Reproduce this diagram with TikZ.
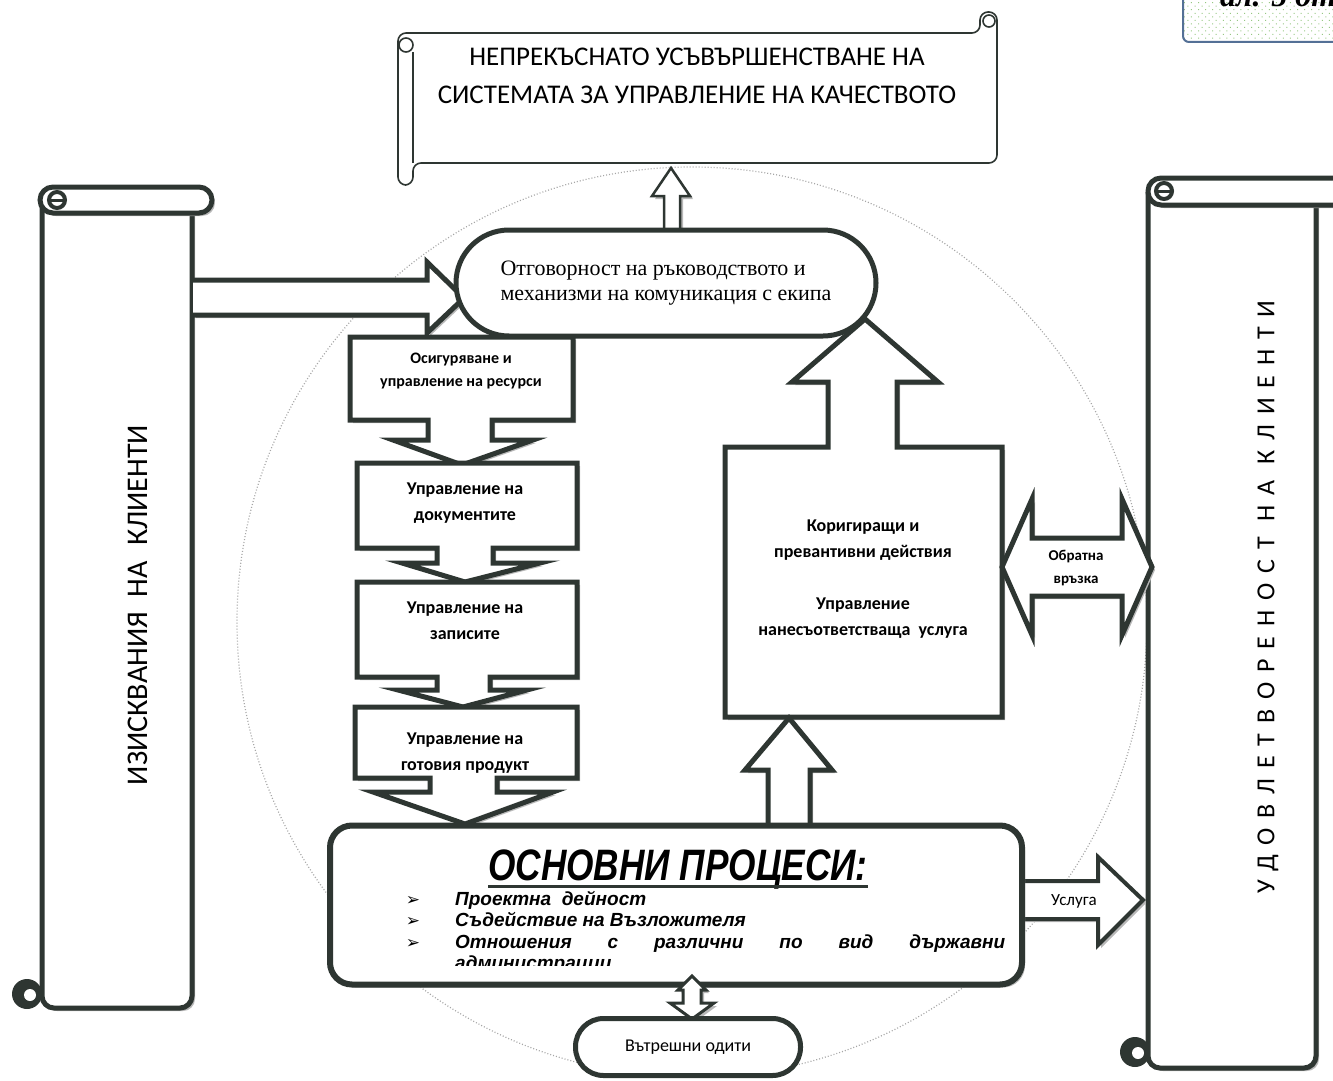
\documentclass[tikz,border=0pt]{standalone}
\usepackage{fontspec}
\setmainfont{Carlito}
\newfontfamily\serifcyr{Liberation Serif}
\newfontfamily\narrowcyr{Liberation Sans}[FakeStretch=0.8]
\newfontfamily\itemcyr{Liberation Sans}
\newfontfamily\spacedcyr{Carlito}[LetterSpace=38]
\newfontfamily\symcyr{DejaVu Sans}
\usetikzlibrary{shadows,patterns.meta}

\definecolor{ink}{RGB}{46,54,50}
\definecolor{boxblue}{RGB}{84,112,150}
\definecolor{dotgreen}{RGB}{150,200,130}

\tikzset{
  ink line/.style={draw=ink, line width=5pt, line join=miter},
  shadowed/.style={drop shadow={shadow xshift=3pt, shadow yshift=-3pt, fill=black!28, opacity=1}},
  blockarrow/.style={ink line, fill=white, shadowed},
  stadium/.style={ink line, fill=white, rounded corners=#1},
  stepbox/.style={font=\bfseries\fontsize{18}{26}\selectfont, align=center},
  procitem/.style={font=\itemcyr\bfseries\itshape\fontsize{19}{22}\selectfont, anchor=base west, inner sep=0},
  bullet/.style={font=\symcyr\fontsize{17}{18}\selectfont, anchor=base, inner sep=0},
}

\begin{document}
\begin{tikzpicture}[x=1pt,y=-1pt]

        \useasboundingbox (0,0) rectangle (1333,1081);
        \clip (0,0) rectangle (1333,1081);

        % dotted circle
        \draw[gray!70, line width=1.2pt, dash pattern=on 1pt off 2pt] (692,622) circle (455);

        % left scroll
        \draw[ink line, fill=white, shadowed, rounded corners=12] (192,213) -- (192,1008) -- (42,1008) -- (42,200);
        \draw[ink line, fill=white, shadowed, rounded corners=13] (40,187) rectangle (212,213);
        \draw[ink line, line width=4pt, fill=white] (57,200) circle (8);
        \draw[ink line, line width=3pt] (49,200) -- (65,200);
        \fill[ink] (27,994) circle (15);
        \fill[white] (30,995) circle (6);
        \node[font=\fontsize{30}{32}\selectfont, rotate=90] (creq) at (138,605) {ИЗИСКВАНИЯ\hspace{0.5em}НА\hspace{0.5em}КЛИЕНТИ};

        % right scroll
        \draw[ink line, fill=white, shadowed, rounded corners=12] (1316,205) -- (1316,1068) -- (1148,1068) -- (1148,192);
        \draw[ink line, fill=white, shadowed, rounded corners=13] (1148,178) rectangle (1360,205);
        \draw[ink line, line width=4pt, fill=white] (1164,191) circle (8);
        \draw[ink line, line width=3pt] (1156,191) -- (1172,191);
        \fill[ink] (1135,1052) circle (15);
        \fill[white] (1138,1053) circle (6);
        \node[font=\spacedcyr\fontsize{26}{30}\selectfont, rotate=90] (csat) at (1268,597) {УДОВЛЕТВОРЕНОСТ НА КЛИЕНТИ};

        % banner
        \draw[ink line, line width=1.6pt, fill=white, rounded corners=8] (413,163) -- (997,163) -- (997,12) -- (980,12) -- (980,33) -- (398,33) -- (398,185) -- (413,185) -- cycle;
        \draw[ink line, line width=1.6pt] (413,163) -- (413,52);
        \draw[ink line, line width=1.6pt] (406,45) circle (7);
        \draw[ink line, line width=1.6pt] (989,21) circle (6);
        \node[font=\fontsize{27}{38}\selectfont, align=center] (kaizen) at (697,76) {НЕПРЕКЪСНАТО УСЪВЪРШЕНСТВАНЕ НА\\СИСТЕМАТА ЗА УПРАВЛЕНИЕ НА КАЧЕСТВОТО};

        % arrows
        \draw[blockarrow, line width=2.5pt] (664,231) -- (664,196) -- (652,196) -- (671,168) -- (690,196) -- (680,196) -- (680,231);
        \draw[blockarrow] (193,280) -- (427,280) -- (427,262) -- (464,298) -- (427,333) -- (427,315) -- (193,315);

        % step boxes
        \draw[blockarrow] (350,337) -- (573,337) -- (573,420) -- (492,420) -- (492,440) -- (533,440) -- (462,465) -- (393,440) -- (428,440) -- (428,420) -- (350,420) -- cycle;
        \draw[blockarrow] (357,463) -- (577,463) -- (577,548) -- (493,548) -- (493,563) -- (540,563) -- (465,582) -- (402,563) -- (437,563) -- (437,548) -- (357,548) -- cycle;
        \draw[blockarrow] (357,582) -- (577,582) -- (577,677) -- (490,677) -- (490,690) -- (527,690) -- (463,707) -- (398,690) -- (437,690) -- (437,677) -- (357,677) -- cycle;
        \draw[blockarrow] (355,707) -- (577,707) -- (577,778) -- (497,778) -- (497,792) -- (553,792) -- (465,824) -- (373,792) -- (430,792) -- (430,778) -- (355,778) -- cycle;

        \node[stepbox, font=\bfseries\fontsize{16}{23}\selectfont] (res) at (461,371) {Осигуряване и\\управление на ресурси};
        \node[stepbox] (docs) at (465,503) {Управление на\\документите};
        \node[stepbox] (recs) at (465,621) {Управление на\\записите};
        \node[stepbox] (prod) at (465,753) {Управление на\\готовия продукт};

        % corrective actions
        \draw[blockarrow] (725,447) -- (828,447) -- (828,382) -- (792,382) -- (865,319) -- (938,382) -- (897,382) -- (897,447) -- (1002,447) -- (1002,717) -- (725,717) -- cycle;
        \node[stepbox] (capa) at (863,579) {Коригиращи и\\превантивни действия\\[26pt]Управление\\нанесъответстваща~~услуга};
        \draw[blockarrow] (768,826) -- (768,770) -- (745,770) -- (789,718) -- (832,770) -- (810,770) -- (810,826);

        % management
        \node[stadium=53, minimum width=420, minimum height=106, font=\serifcyr\fontsize{22}{25}\selectfont, align=left] (resp) at (666,283) {Отговорност на ръководството и\\механизми на комуникация с екипа};

        % feedback
        \draw[blockarrow] (1002,567) -- (1032,499) -- (1032,538) -- (1122,538) -- (1122,499) -- (1152,567) -- (1122,635) -- (1122,596) -- (1032,596) -- (1032,635) -- cycle;
        \node[font=\bfseries\fontsize{15}{23}\selectfont, align=center] (fb) at (1076,568) {Обратна\\връзка};

        % service
        \draw[blockarrow, line width=4pt] (1022,881) -- (1098,881) -- (1098,857) -- (1143,900) -- (1098,945) -- (1098,919) -- (1022,919);
        \node[font=\fontsize{17}{18}\selectfont] (svc) at (1074,901) {Услуга};

        % main processes
        \node[ink line, line width=6pt, fill=white, shadowed, rounded corners=22, minimum width=692, minimum height=159] (mainproc) at (676,905) {};
        \node[font=\narrowcyr\bfseries\itshape\fontsize{44}{46}\selectfont, anchor=base, inner sep=0] (mptitle) at (678,880) {ОСНОВНИ ПРОЦЕСИ:};
        \draw[ink, line width=3pt] ([yshift=-6pt]mptitle.base west) -- ([yshift=-6pt]mptitle.base east);

        \node[bullet] (b1) at (413,905) {➢};
        \node[bullet] (b2) at (413,926) {➢};
        \node[bullet] (b3) at (413,948) {➢};
        \node[procitem] (p1) at (455,905) {Проектна~ дейност};
        \node[procitem] (p2) at (455,926) {Съдействие на Възложителя};
        \node[procitem] (p3) at (455,948) {\makebox[550pt][s]{Отношения с различни по вид държавни}};
        \begin{scope}
          \clip (440,952) rectangle (760,965);
          \node[procitem] (p4) at (455,969) {администрации};
        \end{scope}

        % audits
        \draw[blockarrow, line width=3pt] (692,976) -- (706,990) -- (701,990) -- (701,1003) -- (714,1003) -- (692,1019) -- (670,1003) -- (683,1003) -- (683,990) -- (678,990) -- cycle;
        \node[stadium=28, minimum width=225, minimum height=57, font=\fontsize{18}{20}\selectfont] (audit) at (688,1047) {Вътрешни одити};

        % corner tab
        \draw[boxblue, line width=2pt, rounded corners=6, pattern={Dots[distance=5pt, radius=0.7pt, angle=45]}, pattern color=dotgreen] (1183,-20) rectangle (1360,42);
        \node[font=\serifcyr\bfseries\itshape\fontsize{32}{36}\selectfont, anchor=base west, inner sep=0] (art) at (1220,7) {ал. 5 от};

\end{tikzpicture}
\end{document}
